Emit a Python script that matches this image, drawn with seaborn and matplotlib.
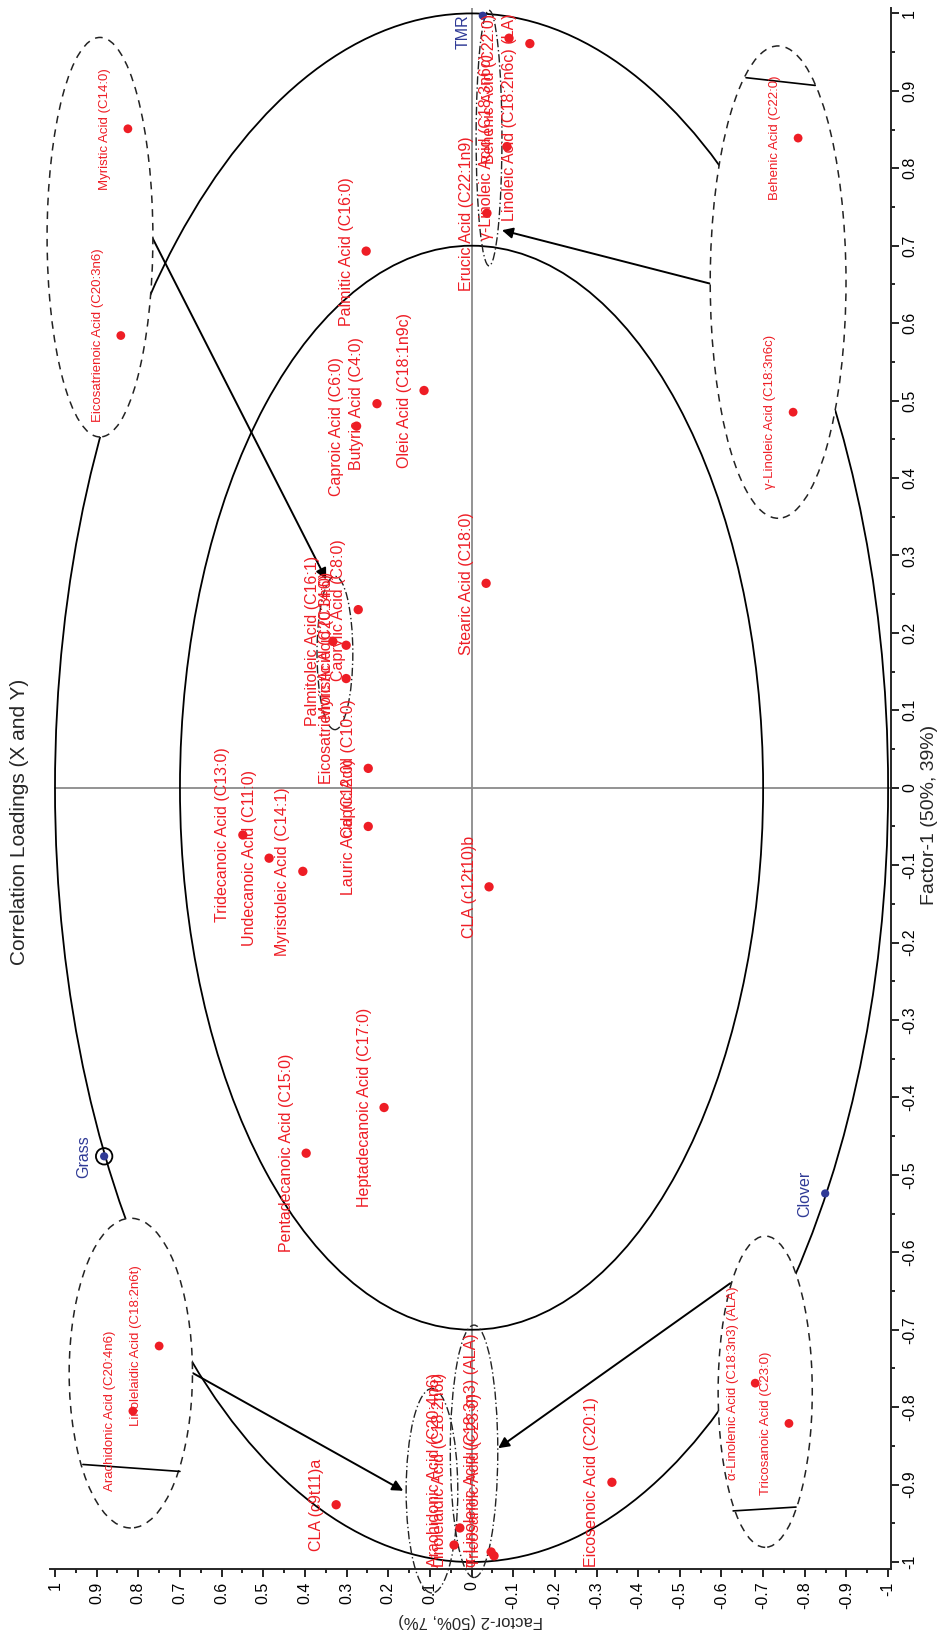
import matplotlib
matplotlib.use("Agg")
import matplotlib.pyplot as plt
from matplotlib.patches import Ellipse
import pandas as pd
import seaborn as sns

# variable loadings: name, Factor-1, Factor-2
acids = ["Palmitic Acid (C16:0)", "Caproic Acid (C6:0)", "Butyric Acid (C4:0)",
         "Oleic Acid (C18:1n9c)", "Stearic Acid (C18:0)", "Erucic Acid (C22:1n9)",
         "γ-Linoleic Acid (C18:3n6c)", "Behenic Acid (C22:0)",
         "Linoleic Acid (C18:2n6c) (LA)", "Palmitoleic Acid (C16:1)",
         "Eicosatrienoic Acid (C20:3n6)", "Myristic Acid (C14:0)", "Caprylic Acid (C8:0)",
         "Capric Acid (C10:0)", "Lauric Acid (C12:0)", "Tridecanoic Acid (C13:0)",
         "Undecanoic Acid (C11:0)", "Myristoleic Acid (C14:1)", "CLA (c12t10)b",
         "Pentadecanoic Acid (C15:0)", "Heptadecanoic Acid (C17:0)", "CLA (c9t11)a",
         "Arachidonic Acid (C20:4n6)", "Linolelaidic Acid (C18:2n6t)",
         "α-Linolenic Acid (C18:3n3) (ALA)", "Tricosanoic Acid (C23:0)",
         "Eicosenoic Acid (C20:1)"]
factor1 = [0.693, 0.467, 0.496, 0.513, 0.264, 0.742, 0.828, 0.968, 0.961, 0.189,
           0.141, 0.184, 0.230, 0.025, -0.050, -0.061, -0.091, -0.108, -0.128,
           -0.472, -0.413, -0.926, -0.978, -0.956, -0.987, -0.992, -0.897]
factor2 = [0.253, 0.276, 0.227, 0.114, -0.035, -0.037, -0.085, -0.090, -0.140, 0.333,
           0.301, 0.301, 0.272, 0.248, 0.248, 0.549, 0.486, 0.405, -0.042,
           0.397, 0.210, 0.325, 0.042, 0.028, -0.047, -0.054, -0.337]

# Y-variables (feeding groups)
samples = ["TMR", "Grass", "Clover"]
sample_f1 = [0.997, -0.476, -0.524]
sample_f2 = [-0.027, 0.882, -0.849]

# enlarged copies of crowded points drawn inside the dashed callouts
callout_acids = ["Myristic Acid (C14:0)", "Eicosatrienoic Acid (C20:3n6)",
                 "Behenic Acid (C22:0)", "γ-Linoleic Acid (C18:3n6c)",
                 "Arachidonic Acid (C20:4n6)", "Linolelaidic Acid (C18:2n6t)",
                 "α-Linolenic Acid (C18:3n3) (ALA)", "Tricosanoic Acid (C23:0)"]
callout_f1 = [0.851, 0.584, 0.839, 0.485, -0.805, -0.721, -0.769, -0.821]
callout_f2 = [0.825, 0.842, -0.784, -0.772, 0.813, 0.750, -0.681, -0.762]

ticks = [-1, -0.9, -0.8, -0.7, -0.6, -0.5, -0.4, -0.3, -0.2, -0.1, 0,
         0.1, 0.2, 0.3, 0.4, 0.5, 0.6, 0.7, 0.8, 0.9, 1]
tick_labels = ["-1", "-0.9", "-0.8", "-0.7", "-0.6", "-0.5", "-0.4", "-0.3", "-0.2", "-0.1", "0",
               "0.1", "0.2", "0.3", "0.4", "0.5", "0.6", "0.7", "0.8", "0.9", "1"]
minor_ticks = [t + 0.05 for t in ticks[:-1]]

RED = "#ee1d25"
BLUE = "#2f3a96"

sns.set_style("ticks")
plt.rcParams["font.family"] = ["Liberation Sans", "DejaVu Sans"]
narrow = ["Liberation Sans Narrow", "Liberation Sans", "DejaVu Sans"]

loadings = pd.DataFrame({"acid": acids, "f1": factor1, "f2": factor2})
ys = pd.DataFrame({"sample": samples, "f1": sample_f1, "f2": sample_f2})
zoomed = pd.DataFrame({"acid": callout_acids, "f1": callout_f1, "f2": callout_f2})

fig = plt.figure(figsize=(9.4, 16.46), dpi=100)
ax = fig.add_axes([50 / 940, 77 / 1646, 841 / 940, 1561 / 1646])

# the chart is shown turned a quarter turn: Factor-2 runs right-to-left, Factor-1 upward
ax.set_xlim(1.012, -1.007)
ax.set_ylim(-1.009, 1.007)

# reference lines and correlation circles (r = 1 and r = 0.7)
ax.axvline(0, color="#8a8a8a", lw=1.3, zorder=1)
ax.plot([1.0, -1.007], [0, 0], color="#8a8a8a", lw=1.3, zorder=1)
for r in (1.0, 0.7):
    ax.add_patch(Ellipse((0, 0), 2 * r, 2 * r, fill=False, ec="black", lw=1.3, zorder=1))

# arrows from callouts to the crowded clusters
arrows = [((0.765, 0.709), (0.349, 0.269)), ((-0.573, 0.651), (-0.073, 0.720)),
          ((0.669, -0.756), (0.164, -0.908)), ((-0.621, -0.640), (-0.064, -0.853))]
for (sx, sy), (tx, ty) in arrows:
    ax.annotate("", xy=(tx, ty), xytext=(sx, sy),
                arrowprops=dict(arrowstyle="-|>", color="black", lw=1.4,
                                shrinkA=0, shrinkB=0, mutation_scale=16),
                zorder=2)

# dashed callout ellipses (white fill hides the circle behind them)
callouts = [(0.892, 0.711, 0.254, 0.516), (-0.736, 0.653, 0.326, 0.610),
            (0.818, -0.756, 0.296, 0.400), (-0.705, -0.780, 0.226, 0.402)]
for cx, cy, w, h in callouts:
    ax.add_patch(Ellipse((cx, cy), w, h, fc="white", ec="#222222", lw=1.1,
                         ls=(0, (5, 4)), zorder=3, clip_on=False))
chords = [((-0.659, -0.825), (0.917, 0.907)), ((0.933, 0.700), (-0.874, -0.883)),
          ((-0.628, -0.779), (-0.934, -0.929))]
for xs, yv in chords:
    ax.plot(xs, yv, color="black", lw=1.2, zorder=3.5)

# dash-dot ellipses around the crowded clusters
clusters = [(-0.042, 0.839, 0.062, 0.330), (0.328, 0.174, 0.086, 0.198),
            (0.095, -0.908, 0.124, 0.264), (-0.006, -0.857, 0.114, 0.326)]
for cx, cy, w, h in clusters:
    ax.add_patch(Ellipse((cx, cy), w, h, fill=False, ec="#222222", lw=1.0,
                         ls=(0, (6, 2, 1, 2)), zorder=3, clip_on=False))

# points
sns.scatterplot(data=loadings, x="f2", y="f1", color=RED, s=45, edgecolor="none",
                zorder=5, ax=ax, legend=False)
sns.scatterplot(data=zoomed, x="f2", y="f1", color=RED, s=40, edgecolor="none",
                zorder=5, ax=ax, legend=False)
sns.scatterplot(data=ys, x="f2", y="f1", color=BLUE, s=35, edgecolor="none",
                zorder=5, ax=ax, legend=False)
grass = ys[ys["sample"] == "Grass"]
ax.scatter(grass["f2"], grass["f1"], s=140, facecolors="none", edgecolors="black",
           lw=1.3, zorder=6)

texts = []
for _, row in loadings.iterrows():
    texts.append(ax.annotate(row["acid"], (row["f2"], row["f1"]), xytext=(-9, 0),
                             textcoords="offset points", rotation=90, ha="right",
                             va="center", color=RED, fontsize=11.5, zorder=6))
for _, row in zoomed.iterrows():
    texts.append(ax.annotate(row["acid"], (row["f2"], row["f1"]), xytext=(-12, 0),
                             textcoords="offset points", rotation=90, ha="right",
                             va="center", color=RED, fontsize=9.5, family=narrow,
                             zorder=6))
for _, row in ys.iterrows():
    texts.append(ax.annotate(row["sample"], (row["f2"], row["f1"]), xytext=(-9, 0),
                             textcoords="offset points", rotation=90, ha="right",
                             va="center", color=BLUE, fontsize=11.5, zorder=6))

# axes
sns.despine(ax=ax, left=True, top=True, right=False, bottom=False)
for side in ("right", "bottom"):
    ax.spines[side].set_linewidth(1.4)
ax.set_xticks(ticks)
ax.set_xticklabels(tick_labels)
ax.set_yticks(ticks)
ax.set_yticklabels(tick_labels)
ax.set_xticks(minor_ticks, minor=True)
ax.set_yticks(minor_ticks, minor=True)
ax.tick_params(which="both", direction="out", width=1.2, colors="black")
ax.tick_params(which="major", length=6, labelsize=11.5)
ax.tick_params(which="minor", length=3)
ax.tick_params(axis="x", labelrotation=90, pad=3)
ax.tick_params(axis="y", which="both", left=False, right=True, labelleft=False,
               labelright=True, labelrotation=90, pad=2)
plt.setp(ax.get_yticklabels(), va="center")
ax.yaxis.set_label_position("right")
ax.set_ylabel("Factor-1 (50%, 39%)", rotation=90, fontsize=14)
ax.yaxis.set_label_coords(1.0355, 0.483)
ax.set_xlabel("Factor-2 (50%, 7%)", rotation=180, fontsize=12, labelpad=3)
ax.grid(False)

fig.text(20 / 940, 1 - 822 / 1646, "Correlation Loadings (X and Y)", rotation=90,
         ha="center", va="center", fontsize=15)

# keep labels inside the plot area, as the original software does
fig.canvas.draw()
renderer = fig.canvas.get_renderer()
box = ax.get_window_extent(renderer)
for t in texts:
    bb = t.get_window_extent(renderer)
    shift = 0
    if bb.y1 > box.y1:
        shift = box.y1 - bb.y1 - 6
    elif bb.y0 < box.y0:
        shift = box.y0 - bb.y0 + 2
    if shift:
        ox, oy = t.xyann
        t.xyann = (ox, oy + shift * 72 / fig.dpi)

fig.savefig("out.png", dpi=100, facecolor="white")
